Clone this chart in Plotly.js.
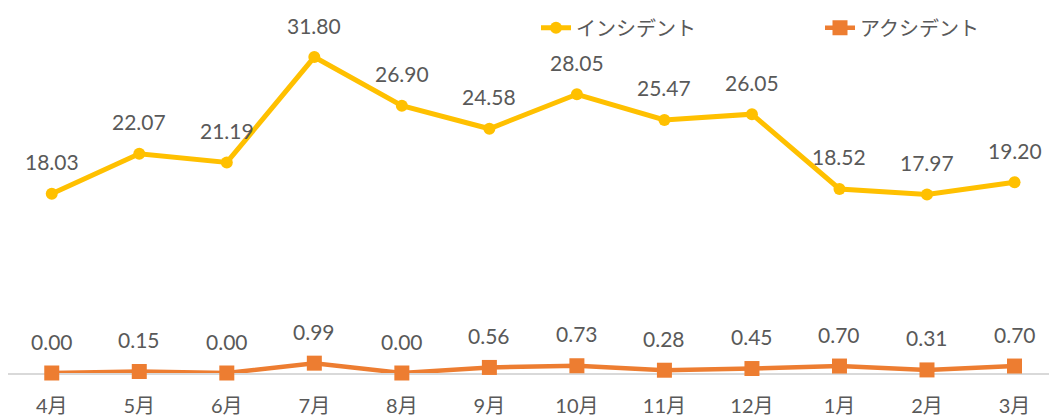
<!DOCTYPE html>
<html><head><meta charset="utf-8">
<script src="https://cdn.plot.ly/plotly-3.0.1.min.js"></script>
<style>html,body{margin:0;padding:0;background:#fff;}#chart{width:1049px;height:416px;}</style>
</head><body><div id="chart"></div>
<script>
const months = ['4月','5月','6月','7月','8月','9月','10月','11月','12月','1月','2月','3月'];
const incident = [18.03,22.07,21.19,31.80,26.90,24.58,28.05,25.47,26.05,18.52,17.97,19.20];
const accident = [0.00,0.15,0.00,0.99,0.00,0.56,0.73,0.28,0.45,0.70,0.31,0.70];
const seriesNames = ['インシデント','アクシデント'];
const colors = ['#FFC000','#ED7D31'];
const FONT = "Lato, 'Noto Sans CJK JP', sans-serif";
const textColor = '#595959';

const traces = [
  {x: months, y: incident, name: seriesNames[0], type:'scatter', mode:'lines+markers', legend:'legend',
   line:{color:colors[0], width:5}, marker:{color:colors[0], size:12, symbol:'circle'}, cliponaxis:false},
  {x: months, y: accident, name: seriesNames[1], type:'scatter', mode:'lines+markers', legend:'legend2',
   line:{color:colors[1], width:4.5}, marker:{color:colors[1], size:15, symbol:'square'}, cliponaxis:false}
];

const annotations = [];
[incident, accident].forEach(arr => arr.forEach((v,i) => annotations.push({
  x: months[i], y: v, xref:'x', yref:'y', text: v.toFixed(2), showarrow:false,
  yanchor:'middle', yshift:32, font:{family:FONT, size:21, color:textColor}
})));

const legendBase = {orientation:'h', xanchor:'left', y:0.978, yanchor:'top',
  font:{family:FONT, size:20, color:textColor}, bgcolor:'rgba(0,0,0,0)'};

const layout = {
  width:1049, height:416,
  margin:{l:8, r:0, t:0, b:43},
  paper_bgcolor:'#fff', plot_bgcolor:'#fff',
  xaxis:{type:'category', range:[-0.5, 11.394], showgrid:false, zeroline:false, layer:'below traces',
    showline:true, linecolor:'#D9D9D9', linewidth:1.5, ticks:'', ticklabelstandoff:14,
    tickfont:{family:FONT, size:20, color:textColor}},
  yaxis:{range:[0, 37.54], visible:false, showgrid:false, zeroline:false},
  showlegend:true,
  legend: Object.assign({}, legendBase, {x:(536-8)/1041}),
  legend2: Object.assign({}, legendBase, {x:(820-8)/1041}),
  annotations: annotations
};
Plotly.newPlot('chart', traces, layout, {displayModeBar:false, staticPlot:true});
</script></body></html>
